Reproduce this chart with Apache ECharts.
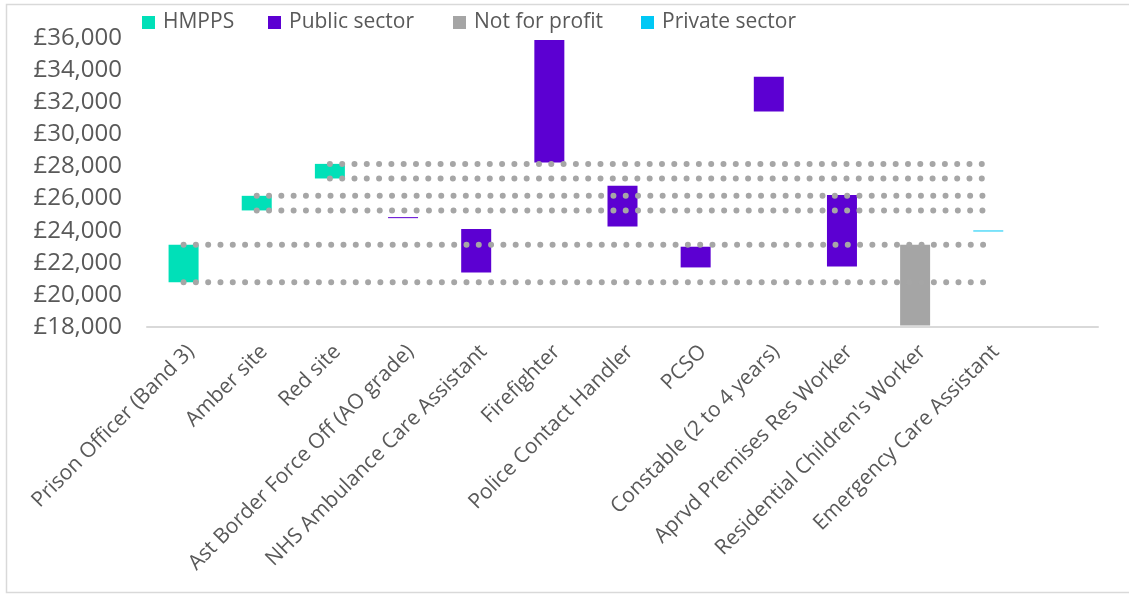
<!DOCTYPE html>
<html>
<head>
<meta charset="utf-8">
<script src="https://cdn.jsdelivr.net/npm/echarts@6/dist/echarts.min.js"></script>
<style>
  html, body { margin: 0; padding: 0; background: #ffffff; }
  #chart { width: 1129px; height: 594px; }
</style>
</head>
<body>
<div id="chart"></div>
<script>
// Pay ranges (annual, £) by role, coloured by sector
const categories = [
  'Prison Officer (Band 3)', 'Amber site', 'Red site', 'Ast Border Force Off (AO grade)',
  'NHS Ambulance Care Assistant', 'Firefighter', 'Police Contact Handler', 'PCSO',
  'Constable (2 to 4 years)', 'Aprvd Premises Res Worker', "Residential Children's Worker",
  'Emergency Care Assistant', ''
];
const sectorOf = [
  'HMPPS', 'HMPPS', 'HMPPS', 'Public sector',
  'Public sector', 'Public sector', 'Public sector', 'Public sector',
  'Public sector', 'Public sector', 'Not for profit',
  'Private sector', null
];
const minPay = [20780, 25260, 27250, 24780, 21400, 28240, 24260, 21710, 31420, 21770, 18100, 23950, null];
const maxPay = [23120, 26170, 28160, 24780, 24110, 35880, 26790, 23000, 33580, 26220, 23120, 23950, null];

const sectors = ['HMPPS', 'Public sector', 'Not for profit', 'Private sector'];
const sectorColors = {
  'HMPPS': '#00E0B8',
  'Public sector': '#5C00D2',
  'Not for profit': '#A5A5A5',
  'Private sector': '#00C8F5'
};
const yTicks = { min: 18000, max: 36000, step: 2000 };

const lastRole = categories.length - 2;
const textColor = '#595959';
const font = '"Open Sans", "Noto Sans", sans-serif';

// invisible base of each floating bar
const series = [{
  name: 'base',
  type: 'bar',
  stack: 'range',
  barWidth: 30,
  itemStyle: { color: 'transparent' },
  silent: true,
  data: minPay.map(v => (v == null ? '-' : v))
}];

// visible span (max - min), one series per sector
sectors.forEach(s => {
  series.push({
    name: s,
    type: 'bar',
    stack: 'range',
    barWidth: 30,
    barMinHeight: 1,
    itemStyle: { color: sectorColors[s] },
    data: categories.map((c, i) =>
      sectorOf[i] === s ? maxPay[i] - minPay[i] : '-')
  });
});

// dotted guide lines carried across from each HMPPS range
sectorOf.forEach((s, i) => {
  if (s !== 'HMPPS') return;
  [maxPay[i], minPay[i]].forEach(level => {
    series.push({
      type: 'line',
      silent: true,
      symbol: 'none',
      z: 5,
      lineStyle: { color: '#A6A6A6', width: 6, type: [0, 12.3], cap: 'round' },
      data: categories.map((c, j) => (j >= i && j <= lastRole ? level : null))
    });
  });
});

// one legend block per sector so each key sits at its own spot
const legendLeft = [137, 263, 448, 636];
const legends = sectors.map((s, k) => ({
  data: [s],
  left: legendLeft[k],
  top: 7,
  icon: 'rect',
  itemWidth: 13,
  itemHeight: 13,
  textStyle: { color: textColor, fontSize: 21, fontFamily: font, padding: [0, 0, 0, 3] }
}));

const chart = echarts.init(document.getElementById('chart'), null, { renderer: 'canvas' });
chart.setOption({
  animation: false,
  backgroundColor: '#ffffff',
  graphic: [{
    type: 'rect',
    shape: { x: 6.5, y: 4.5, width: 1140, height: 588 },
    style: { fill: 'none', stroke: '#D9D9D9', lineWidth: 1.5 },
    silent: true
  }],
  legend: legends,
  grid: { left: 147, right: 31, top: 38, bottom: 267, containLabel: false },
  xAxis: {
    type: 'category',
    data: categories,
    axisLine: { lineStyle: { color: '#D9D9D9', width: 2 } },
    axisTick: { show: false },
    axisLabel: {
      interval: 0,
      rotate: 45,
      margin: 14,
      verticalAlign: 'top',
      color: textColor,
      fontSize: 21,
      fontFamily: font
    }
  },
  yAxis: {
    type: 'value',
    min: yTicks.min,
    max: yTicks.max,
    interval: yTicks.step,
    axisLine: { show: false },
    axisTick: { show: false },
    splitLine: { show: false },
    axisLabel: {
      margin: 25,
      color: textColor,
      fontSize: 24,
      fontFamily: font,
      formatter: v => '£' + v.toLocaleString('en-GB')
    }
  },
  series: series
});
</script>
</body>
</html>
